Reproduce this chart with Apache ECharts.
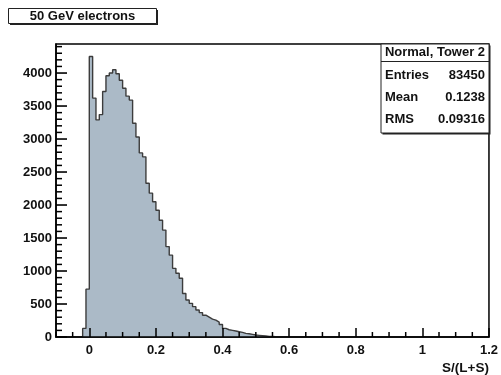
<!DOCTYPE html>
<html>
<head>
<meta charset="utf-8">
<script src="https://cdn.jsdelivr.net/npm/echarts@6/dist/echarts.min.js"></script>
<style>
  html, body { margin: 0; padding: 0; background: #fff; }
  #chart { width: 501px; height: 375px; }
</style>
</head>
<body>
<div id="chart"></div>
<script>
// Histogram of S/(L+S), 0.01 wide bins starting at -0.02
const binStart = -0.02;
const binWidth = 0.01;
const counts = [
  130, 725, 4250, 3620, 3290, 3370, 3720, 3960, 4000, 4050,
  3990, 3890, 3770, 3650, 3590, 3240, 3030, 2790, 2730, 2330,
  2180, 2050, 1920, 1770, 1620, 1370, 1240, 1040, 965, 890,
  660, 560, 510, 460, 410, 370, 330, 300, 270, 255,
  225, 190, 130, 110, 100, 90, 80, 70, 55, 50,
  40, 30, 25, 20, 15, 10, 8, 5, 3
];

// Axis ticks and labels
const xMajor = [0, 0.2, 0.4, 0.6, 0.8, 1, 1.2];
const xMinor = [-0.1, -0.05, 0.05, 0.1, 0.15, 0.25, 0.3, 0.35, 0.45, 0.5, 0.55,
                0.65, 0.7, 0.75, 0.85, 0.9, 0.95, 1.05, 1.1, 1.15];
const yMajor = [0, 500, 1000, 1500, 2000, 2500, 3000, 3500, 4000];
const yMinor = [100, 200, 300, 400, 600, 700, 800, 900, 1100, 1200, 1300, 1400,
                1600, 1700, 1800, 1900, 2100, 2200, 2300, 2400, 2600, 2700, 2800, 2900,
                3100, 3200, 3300, 3400, 3600, 3700, 3800, 3900, 4100, 4200, 4300, 4400];

const histTitle = '50 GeV electrons';
const statsTitle = 'Normal, Tower 2';
const statNames = ['Entries', 'Mean', 'RMS'];
const statValues = ['83450', '0.1238', '0.09316'];
const xTitle = 'S/(L+S)';

const X_MIN = -0.1, X_MAX = 1.2, Y_MAX = 4440;
const FONT = '"Liberation Sans", Arial, Helvetica, sans-serif';

// Step outline points: left edge of each bin, then the closing right edge
const stepData = [[+(binStart - binWidth).toFixed(3), 0]];
counts.forEach((c, i) => stepData.push([+(binStart + i * binWidth).toFixed(3), c]));
stepData.push([+(binStart + counts.length * binWidth).toFixed(3), 0]);

const chart = echarts.init(document.getElementById('chart'), null, { renderer: 'canvas' });

const labelStyle = { color: '#111', fontFamily: FONT, fontWeight: 'bold', fontSize: 13 };

// Stats box geometry
const sb = { x: 381, y: 44, w: 108, h: 89 };
const rowY = [75, 97, 119];

const graphics = [
  // title box shadow + box
  { type: 'rect', shape: { x: 10, y: 10, width: 148, height: 15 }, style: { fill: '#222' }, z: 100 },
  { type: 'rect', shape: { x: 8.5, y: 8.5, width: 148, height: 15 }, style: { fill: '#fff', stroke: '#222', lineWidth: 1 }, z: 101 },
  { type: 'text', x: 82.5, y: 16, style: { text: histTitle, font: 'bold 13px ' + FONT, fill: '#111', align: 'center', verticalAlign: 'middle' }, z: 102 },
  // stats box shadow + box
  { type: 'rect', shape: { x: sb.x + 1.5, y: sb.y + 1.5, width: sb.w, height: sb.h }, style: { fill: '#222' }, z: 100 },
  { type: 'rect', shape: { x: sb.x, y: sb.y, width: sb.w, height: sb.h }, style: { fill: '#fff', stroke: '#222', lineWidth: 1 }, z: 101 },
  { type: 'line', shape: { x1: sb.x, y1: 61.5, x2: sb.x + sb.w, y2: 61.5 }, style: { stroke: '#222', lineWidth: 1 }, z: 102 },
  { type: 'text', x: sb.x + sb.w / 2, y: 52.5, style: { text: statsTitle, font: 'bold 13px ' + FONT, fill: '#111', align: 'center', verticalAlign: 'middle' }, z: 102 }
];
statNames.forEach((n, i) => {
  graphics.push({ type: 'text', x: sb.x + 4, y: rowY[i], style: { text: n, font: 'bold 13px ' + FONT, fill: '#111', align: 'left', verticalAlign: 'middle' }, z: 102 });
  graphics.push({ type: 'text', x: sb.x + sb.w - 4, y: rowY[i], style: { text: statValues[i], font: 'bold 13px ' + FONT, fill: '#111', align: 'right', verticalAlign: 'middle' }, z: 102 });
});

chart.setOption({
  animation: false,
  backgroundColor: '#fff',
  grid: {
    left: 56, top: 44, right: 10, bottom: 38,
    show: true, borderColor: '#000', borderWidth: 1.5, backgroundColor: 'transparent'
  },
  xAxis: {
    type: 'value', min: X_MIN, max: X_MAX, z: 10,
    axisLine: { show: true, onZero: false, lineStyle: { color: '#000', width: 1.5 } },
    axisTick: { show: true, inside: true, length: 9, customValues: xMajor, lineStyle: { color: '#000', width: 1.5 } },
    axisLabel: Object.assign({ customValues: xMajor, margin: 7, formatter: v => String(+v.toFixed(2)) }, labelStyle),
    splitLine: { show: false },
    name: xTitle, nameLocation: 'end', nameGap: 0,
    nameTextStyle: { color: '#111', fontFamily: FONT, fontWeight: 'bold', fontSize: 13.5,
      align: 'right', verticalAlign: 'top', padding: [24, 0, 0, 0] }
  },
  yAxis: {
    type: 'value', min: 0, max: Y_MAX, z: 10,
    axisLine: { show: true, onZero: false, lineStyle: { color: '#000', width: 1.5 } },
    axisTick: { show: false },
    axisLabel: Object.assign({ customValues: yMajor, margin: 4, formatter: v => String(v) }, labelStyle),
    splitLine: { show: false }
  },
  series: [{
    type: 'line',
    step: 'end',
    data: stepData,
    symbol: 'none',
    lineStyle: { color: '#3c3c3c', width: 1.4 },
    areaStyle: { color: '#abbac7', opacity: 1 },
    z: 2
  }]
});

// Inward ROOT-style ticks, positioned through the grid's own scales
function tickLine(value, isX, len, width) {
  const p = chart.convertToPixel({ xAxisIndex: 0, yAxisIndex: 0 }, isX ? [value, 0] : [X_MIN, value]);
  const x = p[0], y = p[1];
  const shape = isX ? { x1: x, y1: y, x2: x, y2: y - len } : { x1: x, y1: y, x2: x + len, y2: y };
  return { type: 'line', shape: shape, style: { stroke: '#000', lineWidth: width }, z: 60 };
}
const tickGraphics = []
  .concat(xMinor.map(v => tickLine(v, true, 5, 1.5)))
  .concat(yMajor.map(v => tickLine(v, false, 11, 1.6)))
  .concat(yMinor.map(v => tickLine(v, false, 6, 1.5)));

chart.setOption({ graphic: graphics.concat(tickGraphics) });
</script>
</body>
</html>
